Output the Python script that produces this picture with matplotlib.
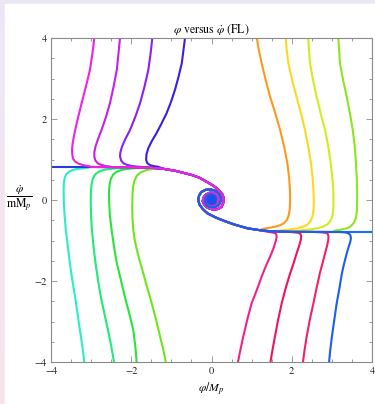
# ───────────────────────── Imports ─────────────────────────
import numpy as np
import matplotlib
matplotlib.use("Agg")
import matplotlib.pyplot as plt
from matplotlib.patches import Rectangle
from matplotlib.ticker import MultipleLocator

# ───────────────────────── Data ─────────────────────────
# shared slow-roll attractor paths (phi/M_p, phidot/(m M_p))
upper_attractor_x = [-4.0, -3.5, -3.0, -2.5, -2.0, -1.5, -1.2, -0.9, -0.7, -0.5, -0.3, -0.12, 0.05, 0.18, 0.27, 0.31]
upper_attractor_y = [0.815, 0.815, 0.815, 0.812, 0.808, 0.795, 0.77, 0.72, 0.67, 0.62, 0.55, 0.45, 0.35, 0.25, 0.14, 0.04]
upper_spiral_x = [0.29, 0.25, 0.17, 0.08, 0.0, -0.10, -0.18, -0.22, -0.20, -0.14, -0.06, 0.02, 0.09, 0.14, 0.17,
                  0.16, 0.12, 0.06, -0.01, -0.07, -0.11, -0.115, -0.08, -0.02, 0.04, 0.08, 0.09, 0.06, 0.01,
                  -0.04, -0.06, -0.04, 0.0, 0.03, 0.035, 0.02, 0.0, -0.01, 0.0]
upper_spiral_y = [-0.08, -0.17, -0.22, -0.235, -0.225, -0.19, -0.12, -0.03, 0.06, 0.13, 0.175, 0.18, 0.15, 0.10, 0.03,
                  -0.04, -0.10, -0.13, -0.135, -0.11, -0.05, 0.02, 0.08, 0.105, 0.09, 0.05, -0.01, -0.06, -0.075,
                  -0.06, -0.01, 0.04, 0.05, 0.03, 0.0, -0.02, -0.02, 0.0, 0.01]

lower_attractor_x = [4.0, 3.5, 3.0, 2.5, 2.0, 1.5, 1.2, 0.9, 0.55, 0.3, 0.1, -0.1, -0.22, -0.3, -0.33]
lower_attractor_y = [-0.79, -0.79, -0.79, -0.788, -0.785, -0.775, -0.745, -0.70, -0.60, -0.51, -0.43, -0.33, -0.22, -0.11, 0.0]
lower_spiral_x = [-0.31, -0.25, -0.15, -0.04, 0.07, 0.16, 0.22, 0.235, 0.21, 0.14, 0.05, -0.04, -0.12, -0.165,
                  -0.16, -0.11, -0.04, 0.03, 0.09, 0.12, 0.11, 0.06, 0.0, -0.06, -0.09, -0.07, -0.03, 0.02,
                  0.05, 0.05, 0.02, -0.01, -0.03, -0.02, 0.0, 0.01]
lower_spiral_y = [0.11, 0.20, 0.25, 0.26, 0.24, 0.18, 0.10, 0.01, -0.08, -0.15, -0.18, -0.175, -0.13, -0.05,
                  0.04, 0.11, 0.14, 0.135, 0.09, 0.03, -0.04, -0.09, -0.10, -0.08, -0.02, 0.04, 0.07, 0.065,
                  0.03, -0.01, -0.04, -0.035, -0.01, 0.015, 0.02, 0.0]
# the fixed point the spirals wind into
fixed_point_x = [0.0]
fixed_point_y = [0.0]

# branches entering from the top-left (land on upper attractor)
top_left_x = [
    [-2.92, -2.97, -3.03, -3.11, -3.195, -3.28, -3.36, -3.42, -3.46, -3.475, -3.47, -3.45, -3.40, -3.32, -3.195, -3.05],
    [-2.28, -2.32, -2.36, -2.44, -2.53, -2.63, -2.74, -2.83, -2.89, -2.92, -2.92, -2.895, -2.84, -2.76, -2.65, -2.52],
    [-1.475, -1.52, -1.575, -1.67, -1.78, -1.90, -2.03, -2.15, -2.23, -2.27, -2.28, -2.255, -2.20, -2.10, -1.99, -1.85],
    [-0.66, -0.74, -0.82, -0.91, -1.01, -1.12, -1.25, -1.37, -1.49, -1.575, -1.62, -1.63, -1.60, -1.53, -1.43, -1.33],
]
top_left_y = [
    [4.0, 3.6, 3.21, 2.88, 2.55, 2.22, 1.89, 1.62, 1.40, 1.25, 1.12, 1.02, 0.95, 0.90, 0.86, 0.835],
    [4.0, 3.6, 3.21, 2.80, 2.39, 2.05, 1.73, 1.50, 1.32, 1.18, 1.07, 0.98, 0.91, 0.87, 0.84, 0.825],
    [4.0, 3.6, 3.21, 2.80, 2.39, 2.05, 1.73, 1.50, 1.32, 1.18, 1.08, 0.98, 0.91, 0.865, 0.84, 0.825],
    [4.0, 3.38, 3.05, 2.72, 2.42, 2.14, 1.88, 1.65, 1.45, 1.28, 1.13, 0.99, 0.91, 0.86, 0.835, 0.82],
]
# branches entering from the bottom-left (land on upper attractor)
bottom_left_x = [
    [-3.17, -3.22, -3.28, -3.34, -3.40, -3.47, -3.53, -3.58, -3.63, -3.66, -3.68, -3.685, -3.68, -3.655, -3.61,
     -3.53, -3.43, -3.32, -3.20],
    [-2.43, -2.50, -2.58, -2.67, -2.76, -2.83, -2.89, -2.94, -2.98, -3.0, -3.01, -3.005, -2.99, -2.96, -2.90,
     -2.81, -2.68, -2.52, -2.35],
    [-1.865, -1.90, -1.95, -2.05, -2.16, -2.26, -2.36, -2.43, -2.49, -2.53, -2.55, -2.555, -2.54, -2.51, -2.45,
     -2.36, -2.23, -2.07, -1.90],
    [-1.14, -1.20, -1.28, -1.38, -1.49, -1.60, -1.70, -1.79, -1.86, -1.915, -1.95, -1.97, -1.975, -1.97, -1.955,
     -1.92, -1.86, -1.77, -1.64, -1.48, -1.30],
]
bottom_left_y = [
    [-4.0, -3.6, -3.21, -2.8, -2.39, -1.97, -1.56, -1.15, -0.74, -0.40, -0.08, 0.25, 0.42, 0.56, 0.65,
     0.71, 0.75, 0.77, 0.78],
    [-4.0, -3.6, -3.21, -2.8, -2.39, -1.97, -1.56, -1.15, -0.74, -0.40, -0.08, 0.20, 0.38, 0.52, 0.63,
     0.70, 0.745, 0.77, 0.785],
    [-4.0, -3.6, -3.21, -2.8, -2.39, -1.97, -1.56, -1.15, -0.74, -0.40, -0.08, 0.20, 0.38, 0.52, 0.63,
     0.70, 0.745, 0.77, 0.785],
    [-4.0, -3.7, -3.38, -2.96, -2.55, -2.17, -1.81, -1.50, -1.23, -0.98, -0.74, -0.45, -0.17, 0.12, 0.33,
     0.48, 0.60, 0.68, 0.735, 0.765, 0.785],
]
# branches entering from the top-right (land on lower attractor)
top_right_x = [
    [1.13, 1.18, 1.25, 1.35, 1.46, 1.59, 1.71, 1.81, 1.89, 1.935, 1.955, 1.96, 1.95, 1.925, 1.88, 1.81, 1.72,
     1.60, 1.45, 1.30],
    [1.85, 1.875, 1.915, 2.01, 2.12, 2.23, 2.33, 2.41, 2.48, 2.52, 2.54, 2.55, 2.545, 2.52, 2.47, 2.39, 2.28,
     2.14, 1.98, 1.83],
    [2.41, 2.43, 2.455, 2.53, 2.62, 2.72, 2.83, 2.91, 2.97, 3.01, 3.035, 3.04, 3.035, 3.01, 2.96, 2.88, 2.77,
     2.63, 2.47, 2.32],
    [3.16, 3.18, 3.20, 3.28, 3.37, 3.45, 3.52, 3.57, 3.60, 3.62, 3.63, 3.63, 3.625, 3.60, 3.55, 3.47, 3.37,
     3.24, 3.10],
]
top_right_y = [
    [4.0, 3.7, 3.38, 2.96, 2.55, 2.14, 1.73, 1.32, 0.91, 0.55, 0.25, 0.0, -0.22, -0.38, -0.49, -0.57, -0.62,
     -0.655, -0.685, -0.71],
    [4.0, 3.7, 3.38, 2.96, 2.55, 2.14, 1.73, 1.32, 0.91, 0.55, 0.25, 0.0, -0.22, -0.40, -0.52, -0.61, -0.66,
     -0.70, -0.725, -0.74],
    [4.0, 3.7, 3.38, 2.96, 2.55, 2.14, 1.73, 1.32, 0.91, 0.55, 0.25, 0.0, -0.22, -0.40, -0.52, -0.61, -0.66,
     -0.70, -0.725, -0.74],
    [4.0, 3.7, 3.38, 2.96, 2.55, 2.14, 1.73, 1.32, 0.91, 0.55, 0.25, 0.0, -0.25, -0.44, -0.56, -0.65, -0.70,
     -0.73, -0.75],
]
# branches entering from the bottom-right (land on lower attractor)
bottom_right_x = [
    [0.66, 0.72, 0.79, 0.89, 1.00, 1.13, 1.25, 1.36, 1.46, 1.55, 1.605, 1.625, 1.615, 1.58, 1.50, 1.40],
    [1.47, 1.52, 1.58, 1.66, 1.75, 1.85, 1.96, 2.05, 2.12, 2.185, 2.225, 2.235, 2.22, 2.17, 2.08, 1.98],
    [2.28, 2.32, 2.37, 2.45, 2.54, 2.62, 2.70, 2.77, 2.83, 2.88, 2.91, 2.915, 2.90, 2.85, 2.76, 2.66],
    [2.93, 2.96, 3.00, 3.06, 3.12, 3.19, 3.25, 3.31, 3.37, 3.42, 3.46, 3.475, 3.46, 3.41, 3.33, 3.20],
]
bottom_right_y = [
    [-4.0, -3.7, -3.38, -2.96, -2.55, -2.22, -1.89, -1.62, -1.40, -1.18, -1.0, -0.91, -0.85, -0.815, -0.80, -0.785],
    [-4.0, -3.7, -3.38, -2.96, -2.55, -2.17, -1.81, -1.55, -1.32, -1.13, -0.99, -0.90, -0.84, -0.81, -0.80, -0.79],
    [-4.0, -3.7, -3.38, -2.96, -2.55, -2.17, -1.81, -1.55, -1.32, -1.13, -0.99, -0.90, -0.84, -0.81, -0.80, -0.795],
    [-4.0, -3.7, -3.38, -2.96, -2.55, -2.17, -1.81, -1.55, -1.32, -1.15, -1.03, -0.94, -0.865, -0.82, -0.80, -0.79],
]

top_left_colors = ["#ee22e2", "#c420f2", "#8a20f4", "#3a1ee6"]
bottom_left_colors = ["#2aefc2", "#1eeb78", "#2ae43e", "#6ee61e"]
top_right_colors = ["#ff981e", "#ffd81e", "#d2ec1e", "#8ce61e"]
bottom_right_colors = ["#f0228a", "#ee1458", "#f2206c", "#1e5cf0"]
left_edge_color = "#2a3cd6"
right_edge_color = "#1e6cf5"

# ───────────────────────── Helpers ─────────────────────────
def upper_path(bx, by):
    ax_ = np.asarray(upper_attractor_x)
    ay_ = np.asarray(upper_attractor_y)
    keep = ax_ > bx[-1]
    return (np.concatenate([bx, ax_[keep], upper_spiral_x]),
            np.concatenate([by, ay_[keep], upper_spiral_y]))


def lower_path(bx, by):
    ax_ = np.asarray(lower_attractor_x)
    ay_ = np.asarray(lower_attractor_y)
    keep = ax_ < bx[-1]
    return (np.concatenate([bx, ax_[keep], lower_spiral_x]),
            np.concatenate([by, ay_[keep], lower_spiral_y]))


# ───────────────────────── Figure & background ─────────────────────────
plt.rcParams["font.family"] = ["STIXGeneral", "DejaVu Serif"]
plt.rcParams["mathtext.fontset"] = "stix"

fig = plt.figure(figsize=(3.75, 4.04), dpi=100)
bg = fig.add_axes([0, 0, 1, 1], zorder=-5)
top_c = np.array([0.925, 0.905, 0.960])
bot_c = np.array([0.980, 0.895, 0.930])
grad = np.linspace(0, 1, 256)[:, None, None] * (bot_c - top_c) + top_c
bg.imshow(np.repeat(grad, 4, axis=1), aspect="auto", extent=[0, 1, 0, 1])
bg.add_patch(Rectangle((5 / 375, 0), 1, 1 - 4 / 404, color="white", transform=bg.transAxes))
bg.set_xlim(0, 1)
bg.set_ylim(0, 1)
bg.axis("off")

ax = fig.add_axes([51 / 375, 42 / 404, 321 / 375, 324 / 404])
ax.set_facecolor("none")

# ───────────────────────── Trajectories ─────────────────────────
style = dict(lw=1.5, solid_joinstyle="round", solid_capstyle="round")
for bx, by, c in zip(bottom_left_x, bottom_left_y, bottom_left_colors):
    px, py = upper_path(bx, by)
    ax.plot(px, py, color=c, **style)

ax.plot(np.concatenate([upper_attractor_x, upper_spiral_x]),
        np.concatenate([upper_attractor_y, upper_spiral_y]), color=left_edge_color, **style)

for bx, by, c in list(zip(top_left_x, top_left_y, top_left_colors))[::-1]:
    px, py = upper_path(bx, by)
    ax.plot(px, py, color=c, **style)

for bx, by, c in zip(top_right_x, top_right_y, top_right_colors):
    px, py = lower_path(bx, by)
    ax.plot(px, py, color=c, **style)

for bx, by, c in zip(bottom_right_x[:3], bottom_right_y[:3], bottom_right_colors[:3]):
    px, py = lower_path(bx, by)
    ax.plot(px, py, color=c, **style)

ax.plot(np.concatenate([lower_attractor_x, lower_spiral_x]),
        np.concatenate([lower_attractor_y, lower_spiral_y]), color=right_edge_color, **style)
px, py = lower_path(bottom_right_x[3], bottom_right_y[3])
ax.plot(px, py, color=bottom_right_colors[3], **style)

# dense centre of the spirals
ax.scatter(fixed_point_x, fixed_point_y, s=55, color="#1e4ef0", edgecolors="none", zorder=5)

# ───────────────────────── Axes styling ─────────────────────────
ax.set_xlim(-4, 4)
ax.set_ylim(-4, 4)
ax.xaxis.set_major_locator(MultipleLocator(2))
ax.yaxis.set_major_locator(MultipleLocator(2))
ax.xaxis.set_minor_locator(MultipleLocator(0.5))
ax.yaxis.set_minor_locator(MultipleLocator(0.5))
ax.tick_params(which="both", direction="in", top=True, right=True, color="#8a8a8a", width=0.6,
               labelsize=7.5, labelcolor="#222222", pad=3)
ax.tick_params(which="major", length=4)
ax.tick_params(which="minor", length=2.2)
for s in ax.spines.values():
    s.set_color("#8a8a8a")
    s.set_linewidth(0.8)

ax.set_title(r"$\varphi$ versus $\dot{\varphi}$ (FL)", fontsize=8.5, pad=4)
ax.set_xlabel(r"$\varphi/M_p$", fontsize=8.5, labelpad=4)
fig.text(19 / 375, 1 - 199 / 404, r"$\dfrac{\dot{\varphi}}{\mathrm{mM}_{p}}$", fontsize=8.5,
         ha="center", va="center")

fig.savefig("out.png", dpi=100)
